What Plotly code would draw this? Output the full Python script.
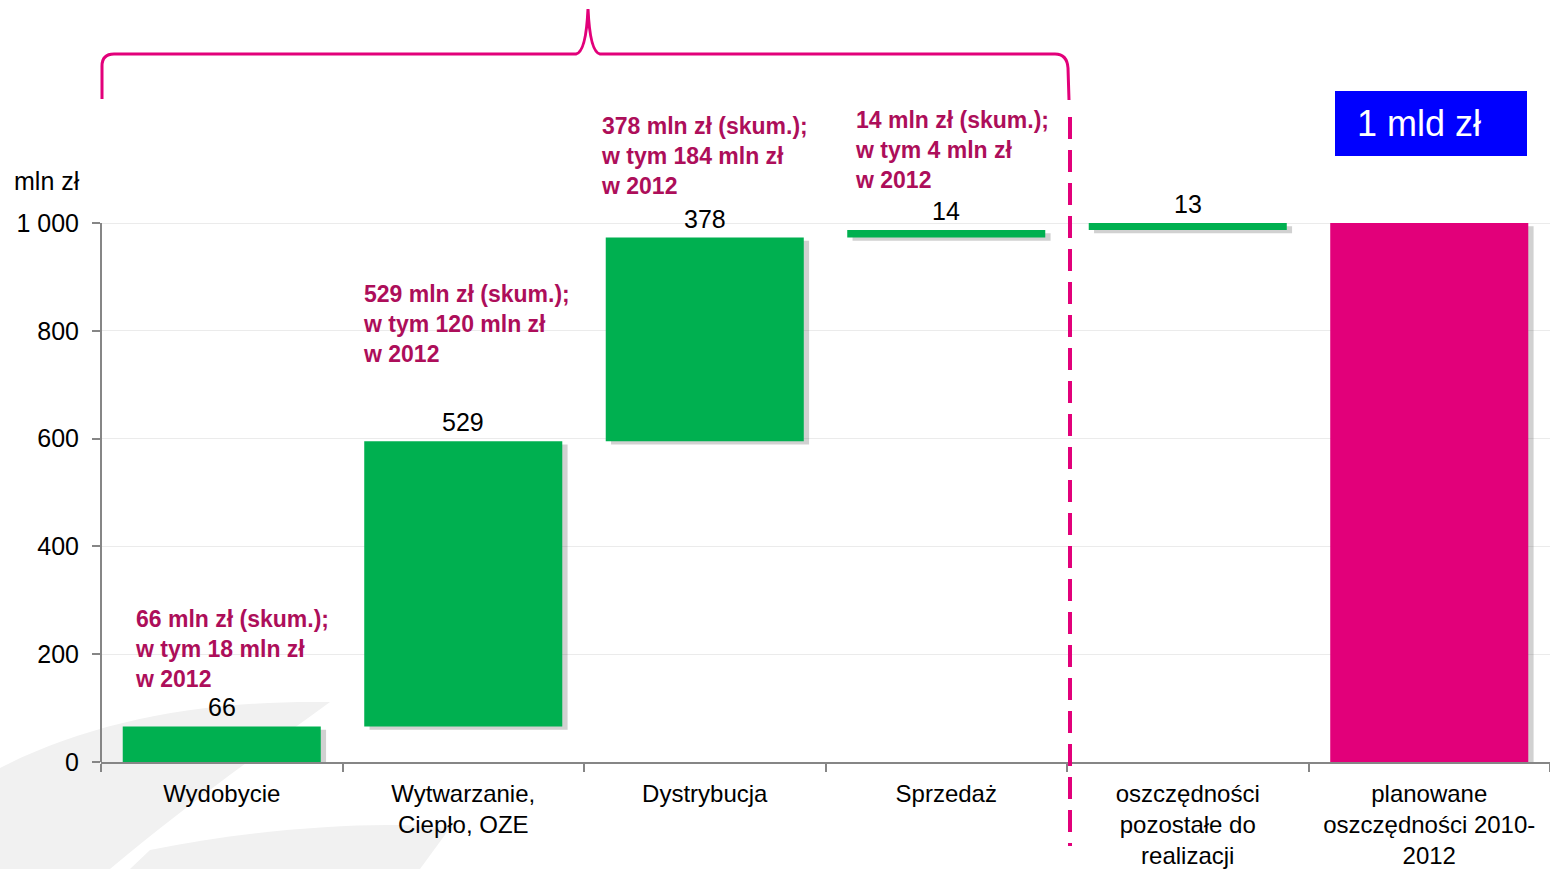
import plotly.graph_objects as go

# ---- data ----
categories = ["Wydobycie", "Wytwarzanie,<br>Ciepło, OZE", "Dystrybucja", "Sprzedaż",
              "oszczędności<br>pozostałe do<br>realizacji", "planowane<br>oszczędności 2010-<br>2012"]
values = [66, 529, 378, 14, 13, 1000]
is_total = [False, False, False, False, False, True]
value_labels = ["66", "529", "378", "14", "13", ""]
notes = [
    "66 mln zł (skum.);<br>w tym 18 mln zł<br>w 2012",
    "529 mln zł (skum.);<br>w tym 120 mln zł<br>w 2012",
    "378 mln zł (skum.);<br>w tym 184 mln zł<br>w 2012",
    "14 mln zł (skum.);<br>w tym 4 mln zł<br>w 2012",
]
y_tickvals = [0, 200, 400, 600, 800, 1000]
y_ticktext = ["0", "200", "400", "600", "800", "1 000"]
total_label = "1 mld zł"
unit_label = "mln zł"

# waterfall bases
bases = []
run = 0
for v, t in zip(values, is_total):
    if t:
        bases.append(0)
    else:
        bases.append(run)
        run += v
tops = [b + v for b, v in zip(bases, values)]

GREEN = "#00B050"
PINK = "#E2007A"
NOTE = "#AD0E5A"
FONT = "Liberation Sans, Arial, sans-serif"
colors = [PINK if t else GREEN for t in is_total]

W, H = 1550, 869
ML, MR, MT, MB = 101, 0, 0, 107
Y_TOP = 1000 * (H - MT - MB) / (762 - 223)


def px(x):
    return (x - ML) / (W - ML - MR)


def py(y):
    return (H - MB - y) / (H - MT - MB)


fig = go.Figure()
# soft shadow
fig.add_trace(go.Bar(
    x=categories, y=values, base=[b - 6 for b in bases], width=0.82, offset=-0.41 + 0.022,
    marker=dict(color="rgba(90,90,90,0.28)", line=dict(width=0)), hoverinfo="skip", showlegend=False))
fig.add_trace(go.Bar(
    x=categories, y=values, base=bases, width=0.82, offset=-0.41,
    marker=dict(color=colors, line=dict(width=0)), showlegend=False))

ann = []
for c, top, lab in zip(categories, tops, value_labels):
    if lab:
        ann.append(dict(x=c, y=top, xref="x", yref="y", text=lab, showarrow=False,
                        yanchor="bottom", yshift=3, font=dict(size=25, color="#000000", family=FONT)))

note_pos = [(133, 604), (361, 279), (599, 111), (853, 105)]
for (x0, y0), t in zip(note_pos, notes):
    ann.append(dict(x=px(x0), y=py(y0), xref="paper", yref="paper", text="<b>" + t + "</b>",
                    showarrow=False, xanchor="left", yanchor="top", align="left",
                    font=dict(size=23, color=NOTE, family=FONT)))

ann.append(dict(x=px(12), y=py(181), xref="paper", yref="paper", text=unit_label, showarrow=False,
                xanchor="left", yanchor="middle", font=dict(size=25, color="#000000", family=FONT)))
ann.append(dict(x=px(1419), y=py(124), xref="paper", yref="paper", text=total_label, showarrow=False,
                xanchor="center", yanchor="middle", font=dict(size=36, color="#FFFFFF", family=FONT)))

shapes = []
# background swoosh
shapes.append(dict(type="path", xref="paper", yref="paper", layer="below", line=dict(width=0),
                   fillcolor="#F1F1F1",
                   path=f"M {px(0)},{py(768)} C {px(90)},{py(722)} {px(200)},{py(700)} {px(330)},{py(702)} "
                        f"C {px(250)},{py(760)} {px(180)},{py(810)} {px(110)},{py(869)} L {px(0)},{py(869)} Z"))
shapes.append(dict(type="path", xref="paper", yref="paper", layer="below", line=dict(width=0),
                   fillcolor="#F1F1F1",
                   path=f"M {px(150)},{py(850)} C {px(260)},{py(828)} {px(380)},{py(820)} {px(450)},{py(828)} "
                        f"L {px(420)},{py(869)} L {px(130)},{py(869)} Z"))
# y axis line (0..1000)
shapes.append(dict(type="line", xref="paper", yref="y", x0=0, x1=0, y0=0, y1=1000,
                   line=dict(color="#868686", width=2)))
# brace
brace = (f"M {px(102)},{py(99)} L {px(102)},{py(66)} Q {px(102)},{py(54)} {px(114)},{py(54)} "
         f"L {px(576)},{py(54)} Q {px(586)},{py(52)} {px(588)},{py(9)} Q {px(590)},{py(52)} {px(600)},{py(54)} "
         f"L {px(1055)},{py(54)} Q {px(1067)},{py(54)} {px(1068)},{py(68)} L {px(1069)},{py(100)}")
shapes.append(dict(type="path", xref="paper", yref="paper", path=brace,
                   line=dict(color=PINK, width=3)))
# dashed divider
shapes.append(dict(type="line", xref="paper", yref="paper", x0=px(1070), x1=px(1070),
                   y0=py(117), y1=py(846), line=dict(color=PINK, width=4, dash="22px,11px")))
# blue box
shapes.append(dict(type="rect", xref="paper", yref="paper", x0=px(1335), x1=px(1527),
                   y0=py(91), y1=py(156), fillcolor="#0000FF", line=dict(width=0)))

fig.update_layout(
    width=W, height=H,
    margin=dict(l=ML, r=MR, t=MT, b=MB, autoexpand=False),
    paper_bgcolor="#FFFFFF", plot_bgcolor="rgba(0,0,0,0)",
    barmode="overlay", bargap=0.18,
    showlegend=False,
    font=dict(family=FONT, size=25, color="#000000"),
    annotations=ann, shapes=shapes,
    xaxis=dict(type="category", showline=True, linecolor="#868686", linewidth=2,
               ticks="outside", tickson="boundaries", ticklen=8, tickcolor="#868686", tickwidth=2,
               showgrid=False, zeroline=False, tickfont=dict(size=24, color="#000000", family=FONT),
               ticklabelstandoff=9, automargin=False, range=[-0.5, 5.5]),
    yaxis=dict(range=[0, Y_TOP], tickvals=y_tickvals, ticktext=y_ticktext,
               ticks="outside", ticklen=8, tickcolor="#868686", tickwidth=2,
               showline=False, showgrid=True, gridcolor="#EBEBEB", gridwidth=1, zeroline=False,
               ticklabelstandoff=8, automargin=False, tickfont=dict(size=25, color="#000000", family=FONT)),
)

fig.write_html("out.html", config={"displayModeBar": False},
               post_script="document.body.style.margin='0';document.body.style.padding='0';")
